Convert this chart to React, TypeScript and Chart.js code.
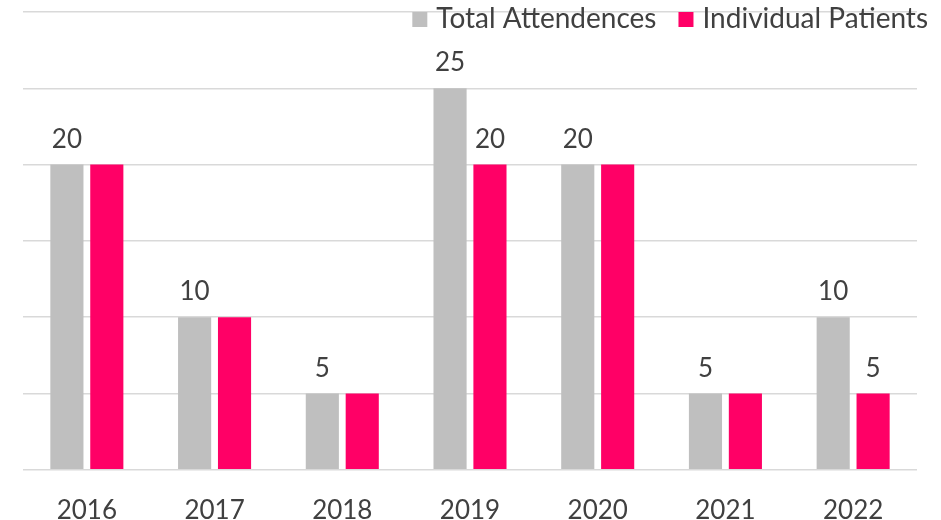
import React, { useEffect, useRef } from "react";
import { Chart, registerables } from "chart.js";

Chart.register(...registerables);

const categories = ["2016", "2017", "2018", "2019", "2020", "2021", "2022"];
const totalAttendences = [20, 10, 5, 25, 20, 5, 10];
const individualPatients = [20, 10, 5, 20, 20, 5, 5];
const seriesNames = ["Total Attendences", "Individual Patients"];
const seriesColors = ["#bfbfbf", "#ff0066"];

const FONT = "Lato, 'Open Sans', sans-serif";
const TEXT_COLOR = "#404040";

const valueLabels = {
  id: "valueLabels",
  afterDatasetsDraw(chart: any) {
    const ctx = chart.ctx;
    ctx.save();
    ctx.font = `26px ${FONT}`;
    ctx.fillStyle = TEXT_COLOR;
    ctx.textAlign = "center";
    ctx.textBaseline = "alphabetic";
    const d0 = chart.data.datasets[0].data;
    chart.data.datasets.forEach((ds: any, di: number) => {
      const meta = chart.getDatasetMeta(di);
      meta.data.forEach((bar: any, i: number) => {
        const v = ds.data[i];
        if (di === 1 && v === d0[i]) return;
        ctx.fillText(String(v), bar.x, bar.y - 17);
      });
    });
    ctx.restore();
  },
};

const customLegend = {
  id: "customLegend",
  afterDraw(chart: any) {
    const ctx = chart.ctx;
    ctx.save();
    ctx.font = `28px ${FONT}`;
    ctx.textBaseline = "alphabetic";
    ctx.textAlign = "left";
    const right = 928;
    const box = 15;
    const boxGap = 9;
    const itemGap = 22;
    const widths = seriesNames.map((n) => ctx.measureText(n).width);
    let total = 0;
    widths.forEach((w, i) => {
      total += box + boxGap + w + (i < widths.length - 1 ? itemGap : 0);
    });
    let x = right - total;
    seriesNames.forEach((n, i) => {
      ctx.fillStyle = seriesColors[i];
      ctx.fillRect(x, 12, box, box);
      x += box + boxGap;
      ctx.fillStyle = TEXT_COLOR;
      ctx.fillText(n, x, 28);
      x += widths[i] + itemGap;
    });
    ctx.restore();
  },
};

export default function App() {
  const ref = useRef<HTMLCanvasElement>(null);
  useEffect(() => {
    document.body.style.margin = "0";
    const chart = new Chart(ref.current!, {
      type: "bar",
      data: {
        labels: categories,
        datasets: [
          {
            label: seriesNames[0],
            data: totalAttendences,
            backgroundColor: seriesColors[0],
            categoryPercentage: 0.625,
            barPercentage: 0.83,
          },
          {
            label: seriesNames[1],
            data: individualPatients,
            backgroundColor: seriesColors[1],
            categoryPercentage: 0.625,
            barPercentage: 0.83,
          },
        ],
      },
      options: {
        animation: false,
        responsive: false,
        layout: { padding: { top: 12, left: 23, right: 24, bottom: -23 } },
        plugins: { legend: { display: false }, tooltip: { enabled: false } },
        scales: {
          x: {
            grid: { display: false },
            border: { display: false },
            ticks: {
              font: { family: FONT, size: 26 },
              color: TEXT_COLOR,
              padding: 17,
            },
          },
          y: {
            min: 0,
            max: 30,
            ticks: { display: false, stepSize: 5 },
            grid: { color: "#d9d9d9", lineWidth: 1.5, drawTicks: false },
            border: { display: false },
          },
        },
      },
      plugins: [valueLabels, customLegend],
    });
    return () => chart.destroy();
  }, []);
  return <canvas ref={ref} width={941} height={520} />;
}
